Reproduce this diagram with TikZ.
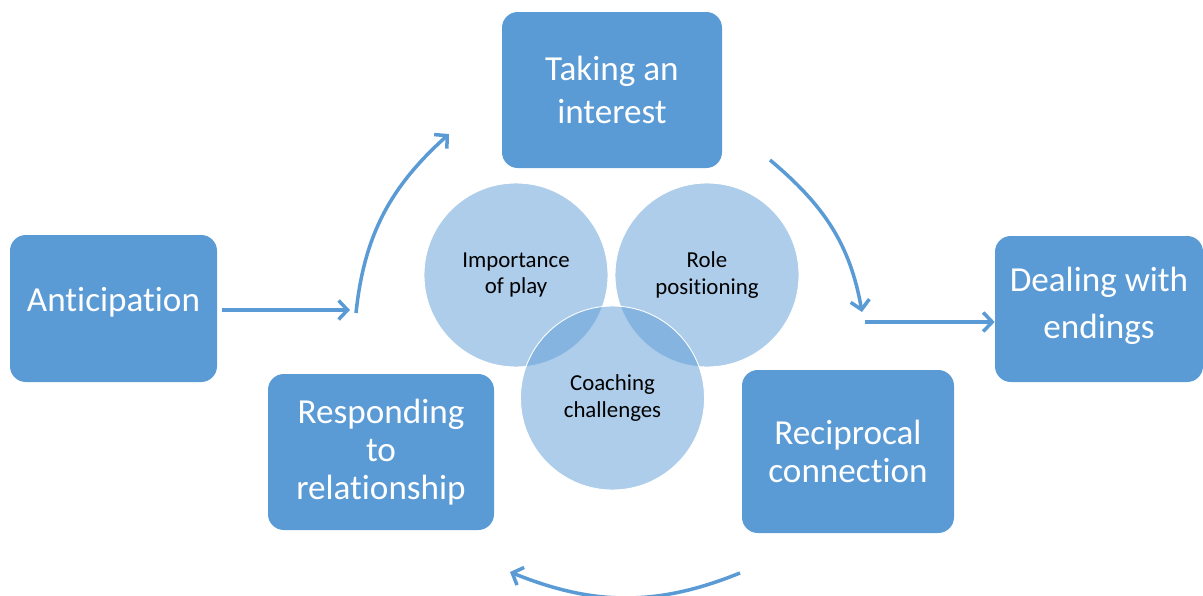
\documentclass[tikz,border=0pt]{standalone}
\usepackage{fontspec}
\setmainfont{Carlito}[Ligatures=NoCommon]
\usepackage{tikz}
\usetikzlibrary{positioning,arrows.meta,calc}
\definecolor{stageblue}{HTML}{5B9BD5}

\begin{document}
\begin{tikzpicture}[>={Straight Barb[length=1.8mm,width=3.8mm]},
    stagebox/.style={fill=stageblue, rounded corners=9pt, text=white, align=center,
      font=\fontsize{20}{24}\selectfont},
    topic/.style={circle, draw=white, line width=0.5pt, fill=stageblue, fill opacity=0.5,
      text opacity=1, minimum size=3.68cm, align=center, font=\fontsize{13}{15}\selectfont},
    flow/.style={->, draw=stageblue, line width=2pt}]
  \useasboundingbox (0,0) rectangle (24.06,-11.92);

  % the five stages
  \node[stagebox, minimum width=4.14cm, minimum height=2.94cm, text depth=0.38cm] (antic)
      at (2.27,-6.17) {Anticipation};
  \node[stagebox, minimum width=4.4cm, minimum height=3.12cm] (interest)
      at (12.24,-1.8) {Taking an\\interest};
  \node[stagebox, minimum width=4.16cm, minimum height=2.92cm, text depth=0.24cm,
        font=\fontsize{20}{26.5}\selectfont] (endings)
      at (21.98,-6.18) {Dealing with\\endings};
  \node[stagebox, minimum width=4.24cm, minimum height=3.26cm,
        font=\fontsize{20}{21.8}\selectfont] (recip)
      at (16.96,-9.03) {Reciprocal\\connection};
  \node[stagebox, minimum width=4.52cm, minimum height=3.12cm,
        font=\fontsize{20}{21.8}\selectfont] (respond)
      at (7.62,-9.04) {Responding\\to\\relationship};

  % overlapping themes in the middle
  \node[topic] (play) at (10.32,-5.5) {Importance\\of play};
  \node[topic] (role) at (14.14,-5.5) {Role\\positioning};
  \node[topic] (coach) at (12.25,-7.96) {Coaching\\challenges};

  % free ends of the arrows
  \coordinate (inEnd) at (7.0,-6.2);
  \coordinate (upStart) at (7.12,-6.26);
  \coordinate (upEnd) at (8.98,-2.68);
  \coordinate (downStart) at (15.4,-3.2);
  \coordinate (downEnd) at (17.24,-6.24);
  \coordinate (outStart) at (17.3,-6.44);
  \coordinate (backStart) at (14.8,-11.46);
  \coordinate (backEnd) at (10.2,-11.44);

  \draw[flow] ([xshift=0.1cm]antic.east |- inEnd) -- (inEnd);
  \draw[flow] (upStart) to[out=84, in=222] (upEnd);
  \draw[flow] (downStart) to[out=-40, in=100] (downEnd);
  \draw[flow] (outStart) -- (outStart -| endings.west);
  \draw[flow] (backStart) to[out=202, in=-22] (backEnd);
\end{tikzpicture}
\end{document}
